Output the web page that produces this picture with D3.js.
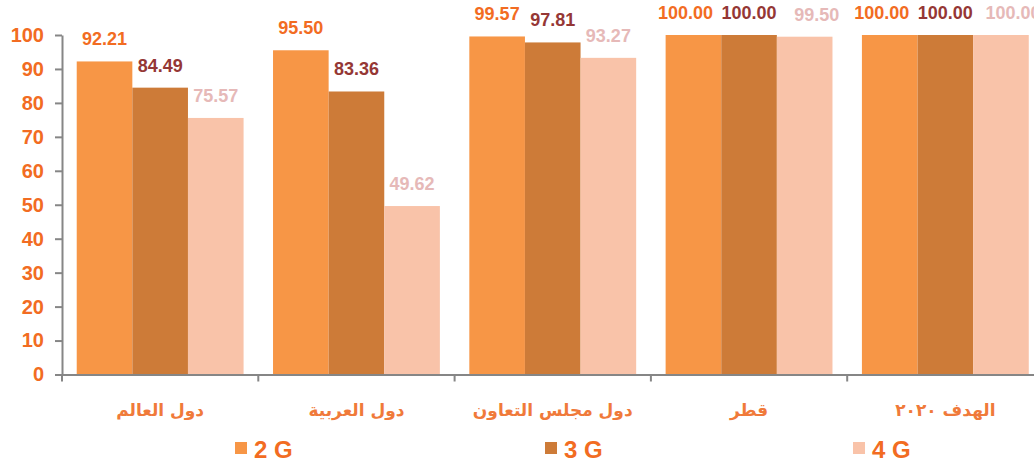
<!DOCTYPE html>
<html lang="ar">
<head>
<meta charset="utf-8">
<script src="https://cdn.jsdelivr.net/npm/d3@7/dist/d3.min.js"></script>
<style>
  html, body { margin: 0; padding: 0; background: #ffffff; overflow: hidden; }
  svg { display: block; }
</style>
</head>
<body>
<svg id="chart" width="1034" height="465"></svg>
<script>
// Mobile network coverage (% of population) by technology
const categories = ["دول العالم", "دول العربية", "دول مجلس التعاون", "قطر", "الهدف ٢٠٢٠"];
const seriesNames = ["2 G", "3 G", "4 G"];
const values2G = [92.21, 95.50, 99.57, 100.00, 100.00];
const values3G = [84.49, 83.36, 97.81, 100.00, 100.00];
const values4G = [75.57, 49.62, 93.27, 99.50, 100.00];
const yTicks = [0, 10, 20, 30, 40, 50, 60, 70, 80, 90, 100];

const seriesValues = [values2G, values3G, values4G];
const barColors = ["#F79646", "#CD7B38", "#F9C3A9"];
const labelColors = ["#F26C22", "#953735", "#E6B9B8"];
const orange = "#F26C22";
const axisGrey = "#868686";

const svg = d3.select("#chart");
const plotLeft = 62, plotTop = 35, plotBottom = 374.5;
const step = 196.3;
const plotRight = plotLeft + step * categories.length;

const x0 = d3.scaleBand().domain(categories).range([plotLeft, plotRight]).paddingInner(0).paddingOuter(0);
const pad = x0.bandwidth() * 0.075;
const x1 = d3.scaleBand().domain(seriesNames).range([pad, x0.bandwidth() - pad]).padding(0);
const y = d3.scaleLinear().domain([0, 100]).range([plotBottom, plotTop]);

// bars
const rows = [];
categories.forEach((c, i) => {
  seriesNames.forEach((s, j) => rows.push({ cat: c, ci: i, s, si: j, v: seriesValues[j][i] }));
});

svg.append("g").selectAll("rect").data(rows).join("rect")
  .attr("x", d => x0(d.cat) + x1(d.s))
  .attr("y", d => y(d.v))
  .attr("width", x1.bandwidth())
  .attr("height", d => y(0) - y(d.v))
  .attr("fill", d => barColors[d.si]);

// y axis
const yAxis = svg.append("g")
  .attr("transform", `translate(${plotLeft},0)`)
  .call(d3.axisLeft(y).tickValues(yTicks).tickSize(7).tickSizeOuter(0).tickPadding(11));
yAxis.select(".domain").attr("stroke", axisGrey).attr("stroke-width", 2);
yAxis.selectAll(".tick line").attr("stroke", axisGrey).attr("stroke-width", 2);
yAxis.selectAll(".tick text")
  .attr("fill", orange)
  .style("font", "bold 20px 'Liberation Sans', Arial, sans-serif");

// x axis with ticks on group boundaries
const xAxis = svg.append("g")
  .attr("transform", `translate(0,${plotBottom})`)
  .call(d3.axisBottom(x0).tickSize(0).tickSizeOuter(0).tickFormat(""));
xAxis.select(".domain").attr("stroke", axisGrey).attr("stroke-width", 2);
xAxis.selectAll(".tick").remove();
const bounds = categories.map(c => x0(c)).concat([plotRight]);
xAxis.selectAll("line.bound").data(bounds).join("line")
  .attr("class", "bound")
  .attr("x1", d => d).attr("x2", d => d)
  .attr("y1", 0).attr("y2", 7)
  .attr("stroke", axisGrey).attr("stroke-width", 2);

// category labels
svg.append("g").selectAll("text").data(categories).join("text")
  .attr("x", d => x0(d) + x0.bandwidth() / 2)
  .attr("y", 416)
  .attr("text-anchor", "middle")
  .attr("direction", "rtl")
  .attr("fill", "#F07A3A")
  .style("font", "bold 17px 'DejaVu Sans', sans-serif")
  .text(d => d);

// value labels
const fmt = d3.format(".2f");
const labels = svg.append("g").selectAll("text").data(rows).join("text")
  .attr("x", d => x0(d.cat) + x1(d.s) + x1.bandwidth() / 2)
  .attr("y", d => y(d.v) - 16)
  .attr("text-anchor", "middle")
  .attr("fill", d => labelColors[d.si])
  .style("font", "bold 18px 'Liberation Sans', Arial, sans-serif")
  .text(d => fmt(d.v));

// spread labels apart where the middle one fills the whole bar width
labels.each(function(d) {
  if (d.si === 1) return;
  const mid = labels.filter(e => e.ci === d.ci && e.si === 1).node();
  if (mid.getComputedTextLength() >= x1.bandwidth() - 3) {
    d3.select(this).attr("dx", d.si === 0 ? -8 : 12);
  }
});

// legend
const legendX = [235, 545, 853];
const legend = svg.append("g").selectAll("g").data(seriesNames).join("g")
  .attr("transform", (d, i) => `translate(${legendX[i]},442)`);
legend.append("rect").attr("width", 12).attr("height", 12).attr("fill", (d, i) => barColors[i]);
legend.append("text")
  .attr("x", 19).attr("y", 15.5)
  .attr("fill", orange)
  .style("font", "bold 24px 'Liberation Sans', Arial, sans-serif")
  .text(d => d);
</script>
</body>
</html>
